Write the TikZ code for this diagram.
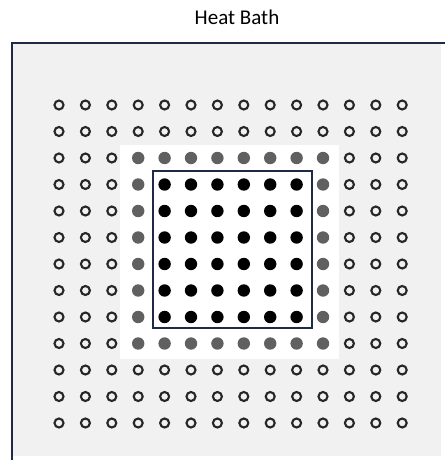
\documentclass[tikz,border=0pt]{standalone}
\usepackage{fontspec}
\setmainfont{Carlito}
\usepackage{xcolor}
\usepackage{tikz}
\usetikzlibrary{calc}

\definecolor{bathgray}{HTML}{F1F1F1}
\definecolor{framenavy}{HTML}{1F2A48}
\definecolor{ringgray}{HTML}{606060}
\def\opentag{open}

\begin{document}
\begin{tikzpicture}[x=1pt, y=-1pt,
  open/.style  ={draw=black!85, line width=2.1pt, fill=none},
  ring/.style  ={fill=ringgray},
  core/.style  ={fill=black},
  frame/.style ={draw=framenavy, line width=1.4pt},
]
\useasboundingbox (0,0) rectangle (445,460);

% === Heat bath ===
\fill[bathgray] (12,43) rectangle (441,456);
\draw[frame] (12,460) -- (12,43) -- (445,43);
\node[font=\fontsize{21}{25}\selectfont] (title) at (237,17) {Heat Bath};

% === White region around system ===
\fill[white] (120,145) rectangle (339,359);

% === Lattice ===
\foreach \i in {0,...,13}{
  \foreach \j in {0,...,12}{
    \pgfmathsetmacro{\px}{59+26.4*\i}
    \pgfmathsetmacro{\py}{105+26.5*\j}
    \def\kind{ring}
    \ifnum\i>3 \ifnum\i<10 \ifnum\j>2 \ifnum\j<9 \def\kind{core}\fi\fi\fi\fi
    % outside the ring
    \ifnum\i<3 \def\kind{open}\fi
    \ifnum\i>10 \def\kind{open}\fi
    \ifnum\j<2 \def\kind{open}\fi
    \ifnum\j>9 \def\kind{open}\fi
    \ifx\kind\opentag
      \draw[open] (\px,\py) circle (4.5);
    \else
      \fill[\kind] (\px,\py) circle (6.2);
    \fi
  }
}

% === System boundary ===
\draw[frame] (153,171) rectangle (312,328);

\end{tikzpicture}
\end{document}
